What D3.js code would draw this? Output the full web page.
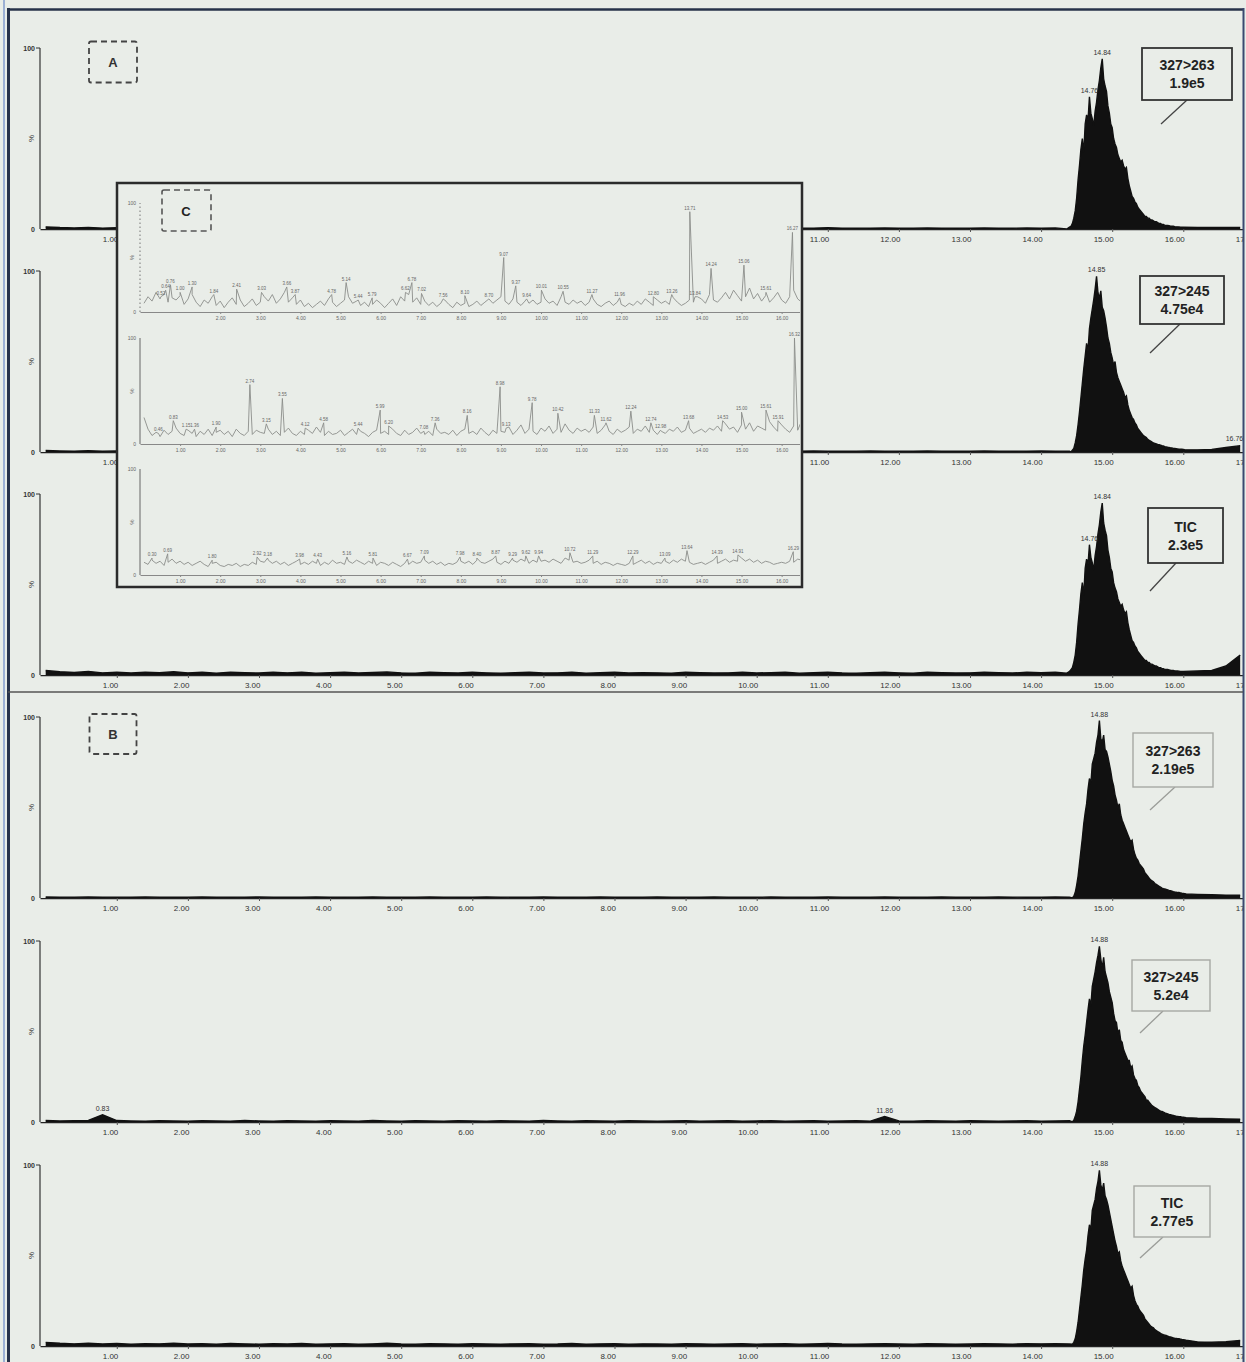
<!DOCTYPE html>
<html>
<head>
<meta charset="utf-8">
<script src="https://cdn.jsdelivr.net/npm/d3@7"></script>
<style>
  body { margin: 0; background: #e9ede8; }
  svg { display: block; font-family: "Liberation Sans", Arial, sans-serif; }
</style>
</head>
<body>
<svg id="chart" width="1246" height="1362"></svg>
<script>
// ---- data ----
// retention time ticks (min)
const tickTimes = [1, 2, 3, 4, 5, 6, 7, 8, 9, 10, 11, 12, 13, 14, 15, 16, 17];
const tickLabels = ["1.00", "2.00", "3.00", "4.00", "5.00", "6.00", "7.00", "8.00", "9.00", "10.00", "11.00", "12.00", "13.00", "14.00", "15.00", "16.00", "17.00"];

// baselines, % intensity every 0.2 min from 0.0 to 16.8
const a1Base = [1.2,0.8,0.6,0.9,0.5,0.7,0.4,0.6,0.5,0.8, 0.5,0.6,0.4,0.7,0.5,0.4,0.6,0.5,0.7,0.4, 0.5,0.6,0.4,0.5,0.7,0.5,0.4,0.6,0.5,0.4, 0.6,0.5,0.4,0.5,0.6,0.4,0.5,0.7,0.4,0.5, 0.6,0.4,0.5,0.5,0.4,0.6,0.5,0.4,0.5,0.6, 0.4,0.5,0.6,0.4,0.5,0.7,0.5,0.4,0.5,0.6, 0.5,0.4,0.6,0.5,0.4,0.5,0.6,0.5,0.4,0.6, 0.5,0.6,0.5,0.4,0.5,0.6,0.5,0.5,0.6,0.5, 1.0,0.9,0.8,0.9,0.8];
const a2Base = [0.8,0.6,0.5,0.7,0.4,0.6,0.5,0.4,0.6,0.5, 0.4,0.5,0.6,0.4,0.5,0.4,0.6,0.5,0.4,0.5, 0.6,0.4,0.5,0.4,0.6,0.5,0.4,0.5,0.6,0.4, 0.5,0.4,0.6,0.5,0.4,0.5,0.4,0.6,0.5,0.4, 0.5,0.6,0.4,0.5,0.4,0.6,0.5,0.4,0.5,0.4, 0.6,0.5,0.4,0.5,0.6,0.4,0.5,0.4,0.6,0.5, 0.4,0.5,0.6,0.4,0.5,0.4,0.6,0.5,0.4,0.5, 0.6,0.5,0.4,0.5,0.6,0.5,0.4,0.5,0.6,0.5, 1.5,1.2,1.4,2.5,3.5];
const a3Base = [2.5,1.8,1.4,2.0,1.2,1.6,1.1,1.5,1.3,1.8, 1.2,1.5,1.0,1.6,1.3,1.1,1.5,1.2,1.6,1.0, 1.3,1.5,1.1,1.4,1.7,1.2,1.0,1.5,1.3,1.1, 1.5,1.2,1.0,1.3,1.5,1.1,1.2,1.6,1.0,1.3, 1.5,1.1,1.3,1.2,1.0,1.5,1.3,1.1,1.2,1.5, 1.1,1.3,1.5,1.0,1.3,1.6,1.2,1.0,1.3,1.5, 1.2,1.0,1.5,1.3,1.1,1.2,1.5,1.3,1.1,1.5, 1.3,1.5,1.2,1.1,1.3,1.5,1.2,1.3,1.5,1.2, 2.0,2.2,2.5,5.0,11.0];
const b1Base = [0.6,0.5,0.4,0.6,0.5,0.4,0.5,0.6,0.4,0.5, 0.4,0.6,0.5,0.4,0.5,0.6,0.4,0.5,0.4,0.6, 0.5,0.4,0.5,0.6,0.4,0.5,0.4,0.6,0.5,0.4, 0.5,0.6,0.4,0.5,0.4,0.6,0.5,0.4,0.5,0.6, 0.4,0.5,0.4,0.6,0.5,0.4,0.5,0.6,0.4,0.5, 0.4,0.6,0.5,0.4,0.5,0.6,0.4,0.5,0.4,0.6, 0.5,0.4,0.5,0.6,0.4,0.5,0.4,0.6,0.5,0.4, 0.5,0.6,0.5,0.4,0.5,0.6,0.5,0.5,0.6,0.5, 2.2,2.0,1.8,1.6,1.5];
const b2Base = [0.8,0.6,0.7,0.9,4.0,0.8,0.6,0.5,0.7,0.6, 0.5,0.7,0.6,0.5,0.8,0.6,0.5,0.7,0.6,0.5, 0.7,0.6,0.5,0.8,0.6,0.5,0.7,0.6,0.5,0.7, 0.6,0.5,0.7,0.6,0.5,0.8,0.6,0.5,0.7,0.6, 0.5,0.7,0.6,0.5,0.6,0.7,0.5,0.6,0.7,0.5, 0.6,0.7,0.5,0.6,0.7,0.5,0.6,0.7,0.5,3.0, 0.6,0.5,0.7,0.6,0.5,0.7,0.6,0.5,0.6,0.7, 0.5,0.6,0.7,0.5,0.6,0.7,0.5,0.6,0.7,0.5, 2.4,2.1,1.9,1.7,1.6];
const b3Base = [2.0,1.5,1.2,1.6,1.1,1.4,1.0,1.3,1.2,1.5, 1.1,1.3,1.0,1.4,1.2,1.0,1.3,1.1,1.4,1.0, 1.2,1.3,1.0,1.2,1.5,1.1,1.0,1.3,1.2,1.0, 1.3,1.1,1.0,1.2,1.3,1.0,1.1,1.4,1.0,1.2, 1.3,1.0,1.2,1.1,1.0,1.3,1.2,1.0,1.1,1.3, 1.0,1.2,1.3,1.0,1.2,1.4,1.1,1.0,1.2,1.3, 1.1,1.0,1.3,1.2,1.0,1.1,1.3,1.2,1.0,1.3, 1.2,1.3,1.1,1.0,1.2,1.3,1.1,1.2,1.3,1.1, 2.6,2.3,2.1,2.4,3.0];

// main peak, % intensity every 0.02 min from the start time
const a1Start = 14.36;
const a1Peak = [0,0.5,1,1.5,3,6,10,17,27,35, 44,50,42,58,63,60,73,64,61,57, 65,70,77,82,89,94,83,79,76,68, 64,58,56,50,47,45,41,39,37,38, 35,33,34,28,24,21,18,17,15,14, 12,11,10,9,8,7,7,6,6,5, 5,4.5,4,4,3.5,3,3,2.5,2.5,2, 2,2,1.8,1.6,1.5,1.5,1.3,1.2,1.2,1.1, 1];
const a2Start = 14.42;
const a2Peak = [0,1,2,5,9,15,22,30,38,46, 53,60,56,68,74,79,84,90,97,88, 85,89,80,78,74,69,63,60,55,52, 48,50,44,41,39,37,35,33,30,31, 26,23,21,19,18,16,15,13,12,11, 10,9,8.5,8,7,6.5,6,5.5,5,4.8, 4.5,4.2,4,3.8,3.5,3.3,3,2.8,2.6,2.5, 2.3,2.2,2,1.9,1.8,1.7,1.6,1.5,1.5,1.4, 1.3];
const a3Start = 14.36;
const a3Peak = [1,1.5,2,3,4,7,11,18,28,36, 45,51,44,59,64,61,72,65,62,58, 66,71,78,83,90,95,84,80,77,69, 65,59,57,51,48,46,42,40,38,39, 36,34,35,29,25,22,19,18,16,15, 13,12,11,10,9,8,8,7,7,6, 6,5.5,5,5,4.5,4,4,3.5,3.5,3, 3,3,2.8,2.6,2.5,2.5,2.3,2.2,2.2,2.1, 2];
const b1Start = 14.44;
const b1Peak = [0,1,3,7,12,19,26,33,41,47, 52,60,66,63,74,77,80,86,90,98, 88,86,90,82,81,78,74,70,65,62, 57,54,50,52,46,43,41,39,37,35, 33,31,32,27,24,22,21,19,18,17, 16,14,13,12,11,10,9.5,9,8,7.5, 7,6.5,6,5.5,5.2,5,4.8,4.5,4.2,4, 3.8,3.5,3.3,3.2,3,3,2.8,2.6,2.5,2.4, 2.2];
const b2Start = 14.44;
const b2Peak = [0,1,3,6,11,18,25,34,42,48, 55,62,68,64,75,79,83,88,92,97, 90,85,91,83,80,77,72,69,66,60, 56,55,49,51,45,44,40,38,36,34, 34,30,31,26,24,23,20,19,17,16, 15,14,12,12,11,10,9,8.5,8,7.5, 7,6.5,6,5.8,5.4,5,4.8,4.5,4.2,4, 3.8,3.6,3.4,3.2,3.1,3,2.9,2.7,2.6,2.5, 2.4];
const b3Start = 14.44;
const b3Peak = [1,2,4,8,13,20,27,34,42,48, 53,61,67,64,75,78,81,87,91,97, 89,86,90,83,81,78,74,70,66,62, 58,55,51,52,47,44,42,40,38,36, 34,32,33,28,25,23,22,20,19,18, 17,15,14,13,12,11,10.5,10,9,8.5, 8,7.5,7,6.5,6.2,6,5.8,5.5,5.2,5, 4.8,4.5,4.3,4.2,4,4,3.8,3.6,3.5,3.4, 3.2];

// peak labels: text, time, intensity
const a1Labels = [["14.84", 14.86, 94], ["14.76", 14.68, 73]];
const a2Labels = [["14.85", 14.78, 97], ["16.76", 16.72, 4]];
const a3Labels = [["14.84", 14.86, 95], ["14.76", 14.68, 72]];
const b1Labels = [["14.88", 14.82, 98]];
const b2Labels = [["14.88", 14.82, 97], ["0.83", 0.8, 4], ["11.86", 11.8, 3]];
const b3Labels = [["14.88", 14.82, 97]];

// channel / intensity annotations
const a1Box = ["327>263", "1.9e5"];
const a2Box = ["327>245", "4.75e4"];
const a3Box = ["TIC", "2.3e5"];
const b1Box = ["327>263", "2.19e5"];
const b2Box = ["327>245", "5.2e4"];
const b3Box = ["TIC", "2.77e5"];

// inset C: noise every 0.1 min from 0.1 to 16.8, plus labelled peaks
const insetTicks = [1, 2, 3, 4, 5, 6, 7, 8, 9, 10, 11, 12, 13, 14, 15, 16];
const c1Noise = [8,14,10,18,12,16,9,13,11,15, 7,12,16,9,5,11,8,14,6,10, 4,9,13,7,11,5,8,12,6,9, 14,10,16,8,12,18,9,13,7,11, 5,8,4,7,10,6,12,9,5,8, 11,14,8,10,6,9,5,7,11,8, 4,8,12,6,14,10,16,9,13,7, 10,6,9,5,8,11,7,4,9,6, 8,5,7,10,6,9,12,8,11,14, 10,7,12,9,6,10,8,11,7,9, 12,8,10,6,14,9,7,11,8,10, 6,9,12,7,5,8,10,6,9,7, 5,8,6,10,7,12,9,6,11,8, 10,7,13,9,6,8,11,9,14,12, 8,16,11,9,13,18,12,20,15,10, 14,22,12,17,10,15,9,13,18,11, 8,14,20,12,9,7,10,6];
const c1Peaks = [[0.52,14,"0.52"],[0.64,20,"0.64"],[0.76,25,"0.76"],[1.00,18,"1.00"],[1.30,23,"1.30"],[1.84,16,"1.84"],[2.41,21,"2.41"],[3.03,18,"3.03"],[3.66,23,"3.66"],[3.87,16,"3.87"],[4.78,16,"4.78"],[5.14,27,"5.14"],[5.44,11,"5.44"],[5.79,13,"5.79"],[6.62,18,"6.62"],[6.78,27,"6.78"],[7.02,17,"7.02"],[7.56,12,"7.56"],[8.10,15,"8.10"],[8.70,12,"8.70"],[9.07,50,"9.07"],[9.37,24,"9.37"],[9.64,12,"9.64"],[10.01,20,"10.01"],[10.55,19,"10.55"],[11.27,16,"11.27"],[11.96,13,"11.96"],[12.80,14,"12.80"],[13.26,16,"13.26"],[13.71,92,"13.71"],[13.84,14,"13.84"],[14.24,40,"14.24"],[15.06,43,"15.06"],[15.61,18,"15.61"],[16.27,73,"16.27"]];
const c2Noise = [25,14,8,11,7,13,9,12,15,10, 8,13,10,7,12,9,14,8,11,13, 9,12,7,14,10,8,12,9,13,11, 10,14,9,12,8,11,15,10,8,12, 9,13,10,16,11,8,12,9,10,13, 8,11,14,9,12,10,7,11,13,10, 12,9,14,10,8,13,9,11,15,10, 9,12,8,14,10,11,9,13,8,12, 14,10,12,9,15,11,8,13,10,12, 11,16,9,13,18,10,14,12,9,15, 12,17,10,14,11,19,13,10,15,12, 14,11,16,10,13,18,12,9,14,11, 13,16,10,14,12,17,11,13,9,12, 10,14,12,16,11,13,15,10,12,14, 11,15,13,17,12,19,14,16,11,18, 14,20,12,17,15,13,21,16,12,18, 14,11,17,13,22,15,12,18];
const c2Peaks = [[0.46,10,"0.46"],[0.83,22,"0.83"],[1.15,14,"1.15"],[1.36,14,"1.36"],[1.90,16,"1.90"],[2.74,56,"2.74"],[3.15,19,"3.15"],[3.55,43,"3.55"],[4.12,15,"4.12"],[4.58,20,"4.58"],[5.44,15,"5.44"],[5.99,32,"5.99"],[6.20,17,"6.20"],[7.08,12,"7.08"],[7.36,20,"7.36"],[8.16,27,"8.16"],[8.98,54,"8.98"],[9.13,15,"9.13"],[9.78,39,"9.78"],[10.42,29,"10.42"],[11.33,27,"11.33"],[11.62,20,"11.62"],[12.24,31,"12.24"],[12.74,20,"12.74"],[12.98,13,"12.98"],[13.68,22,"13.68"],[14.53,22,"14.53"],[15.00,30,"15.00"],[15.61,32,"15.61"],[15.91,22,"15.91"],[16.32,100,"16.32"]];
const c3Noise = [12,10,14,11,13,9,12,15,11,13, 10,12,9,11,13,10,8,11,12,9, 8,10,9,11,8,10,9,12,10,13, 12,14,11,13,10,12,9,11,13,10, 12,10,13,11,9,12,10,14,11,12, 10,13,11,14,12,10,13,11,9,12, 11,9,12,10,8,11,10,13,11,12, 14,11,13,10,12,9,11,10,12,13, 11,13,10,14,12,11,13,15,12,10, 13,11,14,12,15,13,11,14,12,13, 14,12,15,13,11,16,14,12,13,11, 12,14,11,13,10,12,11,9,11,10, 9,11,10,12,14,11,13,10,12,11, 13,11,14,12,15,13,12,10,11,12, 10,12,14,11,13,15,12,14,13,16, 13,15,12,14,11,13,12,10,11,12, 11,13,12,15,14,17,16,19];
const c3Peaks = [[0.30,16,"0.30"],[0.69,20,"0.69"],[1.80,14,"1.80"],[2.92,17,"2.92"],[3.18,16,"3.18"],[3.98,15,"3.98"],[4.43,15,"4.43"],[5.16,17,"5.16"],[5.81,16,"5.81"],[6.67,15,"6.67"],[7.09,18,"7.09"],[7.98,17,"7.98"],[8.40,16,"8.40"],[8.87,18,"8.87"],[9.29,16,"9.29"],[9.62,18,"9.62"],[9.94,18,"9.94"],[10.72,21,"10.72"],[11.29,18,"11.29"],[12.29,18,"12.29"],[13.09,16,"13.09"],[13.64,23,"13.64"],[14.39,18,"14.39"],[14.91,19,"14.91"],[16.29,22,"16.29"]];

// ---- drawing ----
const svg = d3.select("#chart");
const BG = "#e9ede8";
const PLOT_H = 181;

const x = d3.scaleLinear().domain([-0.08, 16.92]).range([40, 1248.7]);

svg.append("defs").append("clipPath").attr("id", "plotClip")
  .append("rect").attr("x", 40).attr("y", 0).attr("width", 1203).attr("height", 1362);

function buildSeries(base, peak, start) {
  const end = start + (peak.length - 1) * 0.02;
  const pts = [];
  base.forEach((v, i) => {
    const t = i * 0.2;
    if (t < start - 1e-6 || t > end + 1e-6) pts.push([t, v]);
  });
  peak.forEach((v, i) => pts.push([start + i * 0.02, v]));
  return pts.sort((a, b) => a[0] - b[0]);
}

const traces = [
  { y0: 229, base: a1Base, peak: a1Peak, start: a1Start, labels: a1Labels, box: a1Box, dark: true, bx: 1142, by: 48, bw: 90, bh: 52, leader: [1161, 124, 1187, 100] },
  { y0: 452, base: a2Base, peak: a2Peak, start: a2Start, labels: a2Labels, box: a2Box, dark: true, bx: 1140, by: 276, bw: 84, bh: 48, leader: [1150, 353, 1180, 324] },
  { y0: 675, base: a3Base, peak: a3Peak, start: a3Start, labels: a3Labels, box: a3Box, dark: true, bx: 1148, by: 508, bw: 75, bh: 55, leader: [1150, 591, 1176, 563] },
  { y0: 898, base: b1Base, peak: b1Peak, start: b1Start, labels: b1Labels, box: b1Box, dark: false, bx: 1133, by: 733, bw: 80, bh: 54, leader: [1150, 810, 1175, 787] },
  { y0: 1122, base: b2Base, peak: b2Peak, start: b2Start, labels: b2Labels, box: b2Box, dark: false, bx: 1132, by: 960, bw: 78, bh: 51, leader: [1140, 1033, 1163, 1011] },
  { y0: 1346, base: b3Base, peak: b3Peak, start: b3Start, labels: b3Labels, box: b3Box, dark: false, bx: 1134, by: 1186, bw: 76, bh: 51, leader: [1140, 1258, 1163, 1237] }
];

traces.forEach(tr => {
  const y = d3.scaleLinear().domain([0, 100]).range([tr.y0, tr.y0 - PLOT_H]);
  const g = svg.append("g");
  const pts = buildSeries(tr.base, tr.peak, tr.start);

  const plot = g.append("g").attr("clip-path", "url(#plotClip)");
  plot.append("path").datum(pts)
    .attr("fill", "#111")
    .attr("d", d3.area().x(d => x(d[0])).y0(y(0)).y1(d => y(d[1])));
  plot.append("path").datum(pts)
    .attr("fill", "none").attr("stroke", "#111").attr("stroke-width", 1.4)
    .attr("d", d3.line().x(d => x(d[0])).y(d => y(d[1])));

  // x axis
  const ax = g.append("g").attr("clip-path", "url(#plotClip)")
    .attr("transform", `translate(0,${tr.y0})`)
    .call(d3.axisBottom(x).tickValues(tickTimes).tickFormat((d, i) => tickLabels[i]).tickSize(3).tickSizeOuter(0));
  ax.select(".domain").attr("stroke", "#222").attr("stroke-width", 1.6);
  ax.selectAll(".tick line").attr("stroke", "#555");
  ax.selectAll(".tick text").attr("text-anchor", "end").attr("x", 1).attr("dy", "0.9em")
    .attr("fill", "#333").style("font-size", "8px");

  // y axis
  g.append("line").attr("x1", 40).attr("x2", 40).attr("y1", y(0)).attr("y2", y(100))
    .attr("stroke", "#333").attr("stroke-width", 1.2);
  g.append("line").attr("x1", 36).attr("x2", 40).attr("y1", y(100)).attr("y2", y(100)).attr("stroke", "#333");
  g.append("text").attr("x", 35).attr("y", y(100) + 3).attr("text-anchor", "end")
    .attr("fill", "#333").style("font-size", "7px").style("font-weight", "bold").text("100");
  g.append("text").attr("x", 35).attr("y", y(0) + 3).attr("text-anchor", "end")
    .attr("fill", "#333").style("font-size", "7px").style("font-weight", "bold").text("0");
  g.append("text").attr("transform", `translate(34,${y(50)}) rotate(-90)`).attr("text-anchor", "middle")
    .attr("fill", "#333").style("font-size", "8px").text("%");

  // peak labels
  tr.labels.forEach(([txt, t, v]) => {
    g.append("text").attr("x", x(t)).attr("y", y(v) - 4).attr("text-anchor", "middle")
      .attr("fill", "#333").style("font-size", "7px").text(txt);
  });

  // annotation box with leader
  const stroke = tr.dark ? "#333" : "#a6a8a4";
  g.append("line").attr("x1", tr.leader[0]).attr("y1", tr.leader[1]).attr("x2", tr.leader[2]).attr("y2", tr.leader[3])
    .attr("stroke", tr.dark ? "#444" : "#9a9c98").attr("stroke-width", 1.3);
  g.append("rect").attr("x", tr.bx).attr("y", tr.by).attr("width", tr.bw).attr("height", tr.bh)
    .attr("fill", BG).attr("stroke", stroke).attr("stroke-width", tr.dark ? 1.8 : 1.4);
  tr.box.forEach((line, i) => {
    g.append("text").attr("x", tr.bx + tr.bw / 2).attr("y", tr.by + tr.bh / 2 - 4 + i * 18)
      .attr("text-anchor", "middle").attr("fill", "#222")
      .style("font-size", "14px").style("font-weight", "bold").text(line);
  });
});

// dashed panel tags
function tag(cx, cy, w, h, letter) {
  svg.append("rect").attr("x", cx - w / 2).attr("y", cy - h / 2).attr("width", w).attr("height", h)
    .attr("rx", 2).attr("fill", "none").attr("stroke", "#444").attr("stroke-width", 1.8).attr("stroke-dasharray", "6,4");
  svg.append("text").attr("x", cx).attr("y", cy + 5).attr("text-anchor", "middle")
    .attr("fill", "#333").style("font-size", "13px").style("font-weight", "bold").text(letter);
}
tag(113, 62, 48, 41, "A");
tag(113, 734, 47, 40, "B");

// ---- inset C ----
const inset = svg.append("g");
inset.append("rect").attr("x", 117).attr("y", 183).attr("width", 685).attr("height", 404)
  .attr("fill", BG).attr("stroke", "#2b2b2b").attr("stroke-width", 2.5);
inset.append("clipPath").attr("id", "insetClip")
  .append("rect").attr("x", 119).attr("y", 185).attr("width", 681).attr("height", 400);

const xc = d3.scaleLinear().domain([0, 16.6]).range([140, 805.7]);
const insetRows = [
  { y0: 312, h: 109, noise: c1Noise, peaks: c1Peaks, dotted: true, skipFirst: true },
  { y0: 444, h: 106, noise: c2Noise, peaks: c2Peaks, dotted: false, skipFirst: false },
  { y0: 575, h: 106, noise: c3Noise, peaks: c3Peaks, dotted: false, skipFirst: false }
];

insetRows.forEach(row => {
  const y = d3.scaleLinear().domain([0, 100]).range([row.y0, row.y0 - row.h]);
  const g = inset.append("g").attr("clip-path", "url(#insetClip)");
  const pts = row.noise.map((v, i) => [0.1 + i * 0.1, v])
    .concat(row.peaks.map(p => [p[0], p[1]]))
    .sort((a, b) => a[0] - b[0]);

  const ax = g.append("g").attr("transform", `translate(0,${row.y0})`)
    .call(d3.axisBottom(xc).tickValues(row.skipFirst ? insetTicks.slice(1) : insetTicks)
      .tickFormat(d3.format(".2f")).tickSize(2).tickSizeOuter(0));
  ax.select(".domain").attr("stroke", "#888").attr("stroke-width", 1);
  ax.selectAll(".tick line").attr("stroke", "#888");
  ax.selectAll(".tick text").attr("fill", "#666").attr("dy", "0.6em").style("font-size", "5px");

  g.append("line").attr("x1", 140).attr("x2", 140).attr("y1", y(0)).attr("y2", y(100))
    .attr("stroke", row.dotted ? "#777" : "#666").attr("stroke-width", 1)
    .attr("stroke-dasharray", row.dotted ? "1.5,2.5" : null);
  g.append("text").attr("x", 136).attr("y", y(100) + 2).attr("text-anchor", "end")
    .attr("fill", "#666").style("font-size", "5px").text("100");
  g.append("text").attr("x", 136).attr("y", y(0) + 2).attr("text-anchor", "end")
    .attr("fill", "#666").style("font-size", "5px").text("0");
  g.append("text").attr("transform", `translate(134,${y(50)}) rotate(-90)`).attr("text-anchor", "middle")
    .attr("fill", "#666").style("font-size", "6px").text("%");

  g.append("path").datum(pts)
    .attr("fill", "none").attr("stroke", "#8b8d8a").attr("stroke-width", 0.9)
    .attr("d", d3.line().x(d => xc(d[0])).y(d => y(d[1])));

  row.peaks.forEach(([t, v, txt]) => {
    g.append("text").attr("x", xc(t)).attr("y", y(v) - 2).attr("text-anchor", "middle")
      .attr("fill", "#666").style("font-size", "4.5px").text(txt);
  });
});
// tag C sits inside the inset
svg.append("rect").attr("x", 162).attr("y", 190).attr("width", 49).attr("height", 41)
  .attr("rx", 2).attr("fill", "none").attr("stroke", "#555").attr("stroke-width", 1.6).attr("stroke-dasharray", "6,4");
svg.append("text").attr("x", 186).attr("y", 216).attr("text-anchor", "middle")
  .attr("fill", "#222").style("font-size", "13px").style("font-weight", "bold").text("C");

// ---- frame ----
svg.append("line").attr("x1", 4).attr("x2", 4).attr("y1", 0).attr("y2", 1362).attr("stroke", "#9cb0d4").attr("stroke-width", 2);
svg.append("line").attr("x1", 8.5).attr("x2", 8.5).attr("y1", 8).attr("y2", 1362).attr("stroke", "#27324a").attr("stroke-width", 3);
svg.append("line").attr("x1", 8).attr("x2", 1244).attr("y1", 9.5).attr("y2", 9.5).attr("stroke", "#27324a").attr("stroke-width", 2.5);
svg.append("line").attr("x1", 1243.5).attr("x2", 1243.5).attr("y1", 8).attr("y2", 1362).attr("stroke", "#3a4a70").attr("stroke-width", 2);
svg.append("line").attr("x1", 8).attr("x2", 1243).attr("y1", 692).attr("y2", 692).attr("stroke", "#555").attr("stroke-width", 1.6);
</script>
</body>
</html>
